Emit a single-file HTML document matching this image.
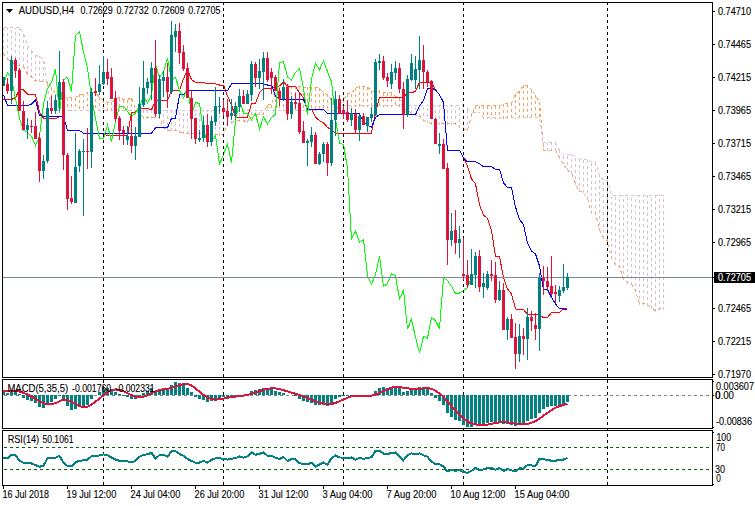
<!DOCTYPE html><html><head><meta charset="utf-8"><title>AUDUSD H4</title><style>html,body{margin:0;padding:0;background:#fff}</style></head><body><svg width="755" height="506" viewBox="0 0 755 506" style="display:block;font-family:'Liberation Sans',sans-serif">
<rect width="755" height="506" fill="#fff"/>
<g shape-rendering="crispEdges">
<g id="cloud">
<line x1="3.5" x2="3.5" y1="55" y2="28" stroke="#D8BFD8" stroke-width="1" stroke-dasharray="3 3"/>
<line x1="7.5" x2="7.5" y1="60" y2="28" stroke="#D8BFD8" stroke-width="1" stroke-dasharray="3 3"/>
<line x1="11.5" x2="11.5" y1="63" y2="28" stroke="#D8BFD8" stroke-width="1" stroke-dasharray="3 3"/>
<line x1="15.5" x2="15.5" y1="65" y2="28" stroke="#D8BFD8" stroke-width="1" stroke-dasharray="3 3"/>
<line x1="19.5" x2="19.5" y1="66" y2="28" stroke="#D8BFD8" stroke-width="1" stroke-dasharray="3 3"/>
<line x1="23.5" x2="23.5" y1="67" y2="33" stroke="#D8BFD8" stroke-width="1" stroke-dasharray="3 3"/>
<line x1="27.5" x2="27.5" y1="75" y2="46" stroke="#D8BFD8" stroke-width="1" stroke-dasharray="3 3"/>
<line x1="31.5" x2="31.5" y1="78" y2="51" stroke="#D8BFD8" stroke-width="1" stroke-dasharray="3 3"/>
<line x1="35.5" x2="35.5" y1="82" y2="56" stroke="#D8BFD8" stroke-width="1" stroke-dasharray="3 3"/>
<line x1="39.5" x2="39.5" y1="82" y2="56" stroke="#D8BFD8" stroke-width="1" stroke-dasharray="3 3"/>
<line x1="43.5" x2="43.5" y1="82" y2="59" stroke="#D8BFD8" stroke-width="1" stroke-dasharray="3 3"/>
<line x1="47.5" x2="47.5" y1="82" y2="85" stroke="#F4A460" stroke-width="1" stroke-dasharray="3 3"/>
<line x1="51.5" x2="51.5" y1="88" y2="111" stroke="#F4A460" stroke-width="1" stroke-dasharray="3 3"/>
<line x1="55.5" x2="55.5" y1="94" y2="111" stroke="#F4A460" stroke-width="1" stroke-dasharray="3 3"/>
<line x1="59.5" x2="59.5" y1="97" y2="111" stroke="#F4A460" stroke-width="1" stroke-dasharray="3 3"/>
<line x1="63.5" x2="63.5" y1="98" y2="111" stroke="#F4A460" stroke-width="1" stroke-dasharray="3 3"/>
<line x1="67.5" x2="67.5" y1="98" y2="111" stroke="#F4A460" stroke-width="1" stroke-dasharray="3 3"/>
<line x1="71.5" x2="71.5" y1="98" y2="111" stroke="#F4A460" stroke-width="1" stroke-dasharray="3 3"/>
<line x1="75.5" x2="75.5" y1="98" y2="111" stroke="#F4A460" stroke-width="1" stroke-dasharray="3 3"/>
<line x1="79.5" x2="79.5" y1="94" y2="111" stroke="#F4A460" stroke-width="1" stroke-dasharray="3 3"/>
<line x1="83.5" x2="83.5" y1="94" y2="111" stroke="#F4A460" stroke-width="1" stroke-dasharray="3 3"/>
<line x1="87.5" x2="87.5" y1="92" y2="111" stroke="#F4A460" stroke-width="1" stroke-dasharray="3 3"/>
<line x1="91.5" x2="91.5" y1="92" y2="111" stroke="#F4A460" stroke-width="1" stroke-dasharray="3 3"/>
<line x1="95.5" x2="95.5" y1="93" y2="111" stroke="#F4A460" stroke-width="1" stroke-dasharray="3 3"/>
<line x1="99.5" x2="99.5" y1="97" y2="111" stroke="#F4A460" stroke-width="1" stroke-dasharray="3 3"/>
<line x1="103.5" x2="103.5" y1="100" y2="111" stroke="#F4A460" stroke-width="1" stroke-dasharray="3 3"/>
<line x1="107.5" x2="107.5" y1="102" y2="111" stroke="#F4A460" stroke-width="1" stroke-dasharray="3 3"/>
<line x1="111.5" x2="111.5" y1="102" y2="111" stroke="#F4A460" stroke-width="1" stroke-dasharray="3 3"/>
<line x1="115.5" x2="115.5" y1="99" y2="111" stroke="#F4A460" stroke-width="1" stroke-dasharray="3 3"/>
<line x1="119.5" x2="119.5" y1="98" y2="111" stroke="#F4A460" stroke-width="1" stroke-dasharray="3 3"/>
<line x1="123.5" x2="123.5" y1="100" y2="111" stroke="#F4A460" stroke-width="1" stroke-dasharray="3 3"/>
<line x1="127.5" x2="127.5" y1="100" y2="111" stroke="#F4A460" stroke-width="1" stroke-dasharray="3 3"/>
<line x1="131.5" x2="131.5" y1="98" y2="111" stroke="#F4A460" stroke-width="1" stroke-dasharray="3 3"/>
<line x1="139.5" x2="139.5" y1="115" y2="110" stroke="#D8BFD8" stroke-width="1" stroke-dasharray="3 3"/>
<line x1="143.5" x2="143.5" y1="119" y2="110" stroke="#D8BFD8" stroke-width="1" stroke-dasharray="3 3"/>
<line x1="147.5" x2="147.5" y1="119" y2="110" stroke="#D8BFD8" stroke-width="1" stroke-dasharray="3 3"/>
<line x1="151.5" x2="151.5" y1="119" y2="110" stroke="#D8BFD8" stroke-width="1" stroke-dasharray="3 3"/>
<line x1="155.5" x2="155.5" y1="118" y2="110" stroke="#D8BFD8" stroke-width="1" stroke-dasharray="3 3"/>
<line x1="159.5" x2="159.5" y1="119" y2="110" stroke="#D8BFD8" stroke-width="1" stroke-dasharray="3 3"/>
<line x1="163.5" x2="163.5" y1="129" y2="110" stroke="#D8BFD8" stroke-width="1" stroke-dasharray="3 3"/>
<line x1="167.5" x2="167.5" y1="131" y2="110" stroke="#D8BFD8" stroke-width="1" stroke-dasharray="3 3"/>
<line x1="171.5" x2="171.5" y1="131" y2="110" stroke="#D8BFD8" stroke-width="1" stroke-dasharray="3 3"/>
<line x1="175.5" x2="175.5" y1="131" y2="110" stroke="#D8BFD8" stroke-width="1" stroke-dasharray="3 3"/>
<line x1="179.5" x2="179.5" y1="133" y2="110" stroke="#D8BFD8" stroke-width="1" stroke-dasharray="3 3"/>
<line x1="183.5" x2="183.5" y1="134" y2="110" stroke="#D8BFD8" stroke-width="1" stroke-dasharray="3 3"/>
<line x1="187.5" x2="187.5" y1="134" y2="110" stroke="#D8BFD8" stroke-width="1" stroke-dasharray="3 3"/>
<line x1="191.5" x2="191.5" y1="134" y2="110" stroke="#D8BFD8" stroke-width="1" stroke-dasharray="3 3"/>
<line x1="195.5" x2="195.5" y1="134" y2="110" stroke="#D8BFD8" stroke-width="1" stroke-dasharray="3 3"/>
<line x1="199.5" x2="199.5" y1="134" y2="110" stroke="#D8BFD8" stroke-width="1" stroke-dasharray="3 3"/>
<line x1="203.5" x2="203.5" y1="136" y2="110" stroke="#D8BFD8" stroke-width="1" stroke-dasharray="3 3"/>
<line x1="207.5" x2="207.5" y1="136" y2="110" stroke="#D8BFD8" stroke-width="1" stroke-dasharray="3 3"/>
<line x1="211.5" x2="211.5" y1="136" y2="110" stroke="#D8BFD8" stroke-width="1" stroke-dasharray="3 3"/>
<line x1="215.5" x2="215.5" y1="136" y2="110" stroke="#D8BFD8" stroke-width="1" stroke-dasharray="3 3"/>
<line x1="219.5" x2="219.5" y1="136" y2="110" stroke="#D8BFD8" stroke-width="1" stroke-dasharray="3 3"/>
<line x1="223.5" x2="223.5" y1="136" y2="110" stroke="#D8BFD8" stroke-width="1" stroke-dasharray="3 3"/>
<line x1="227.5" x2="227.5" y1="124" y2="110" stroke="#D8BFD8" stroke-width="1" stroke-dasharray="3 3"/>
<line x1="231.5" x2="231.5" y1="124" y2="110" stroke="#D8BFD8" stroke-width="1" stroke-dasharray="3 3"/>
<line x1="235.5" x2="235.5" y1="122" y2="110" stroke="#D8BFD8" stroke-width="1" stroke-dasharray="3 3"/>
<line x1="239.5" x2="239.5" y1="122" y2="110" stroke="#D8BFD8" stroke-width="1" stroke-dasharray="3 3"/>
<line x1="243.5" x2="243.5" y1="122" y2="110" stroke="#D8BFD8" stroke-width="1" stroke-dasharray="3 3"/>
<line x1="247.5" x2="247.5" y1="123" y2="110" stroke="#D8BFD8" stroke-width="1" stroke-dasharray="3 3"/>
<line x1="251.5" x2="251.5" y1="115" y2="110" stroke="#D8BFD8" stroke-width="1" stroke-dasharray="3 3"/>
<line x1="255.5" x2="255.5" y1="115" y2="110" stroke="#D8BFD8" stroke-width="1" stroke-dasharray="3 3"/>
<line x1="259.5" x2="259.5" y1="115" y2="110" stroke="#D8BFD8" stroke-width="1" stroke-dasharray="3 3"/>
<line x1="263.5" x2="263.5" y1="115" y2="110" stroke="#D8BFD8" stroke-width="1" stroke-dasharray="3 3"/>
<line x1="267.5" x2="267.5" y1="105" y2="111" stroke="#F4A460" stroke-width="1" stroke-dasharray="3 3"/>
<line x1="271.5" x2="271.5" y1="105" y2="111" stroke="#F4A460" stroke-width="1" stroke-dasharray="3 3"/>
<line x1="275.5" x2="275.5" y1="93" y2="111" stroke="#F4A460" stroke-width="1" stroke-dasharray="3 3"/>
<line x1="279.5" x2="279.5" y1="87" y2="111" stroke="#F4A460" stroke-width="1" stroke-dasharray="3 3"/>
<line x1="283.5" x2="283.5" y1="80" y2="111" stroke="#F4A460" stroke-width="1" stroke-dasharray="3 3"/>
<line x1="287.5" x2="287.5" y1="85" y2="111" stroke="#F4A460" stroke-width="1" stroke-dasharray="3 3"/>
<line x1="291.5" x2="291.5" y1="86" y2="111" stroke="#F4A460" stroke-width="1" stroke-dasharray="3 3"/>
<line x1="295.5" x2="295.5" y1="86" y2="111" stroke="#F4A460" stroke-width="1" stroke-dasharray="3 3"/>
<line x1="299.5" x2="299.5" y1="86" y2="111" stroke="#F4A460" stroke-width="1" stroke-dasharray="3 3"/>
<line x1="303.5" x2="303.5" y1="87" y2="111" stroke="#F4A460" stroke-width="1" stroke-dasharray="3 3"/>
<line x1="307.5" x2="307.5" y1="87" y2="111" stroke="#F4A460" stroke-width="1" stroke-dasharray="3 3"/>
<line x1="311.5" x2="311.5" y1="87" y2="111" stroke="#F4A460" stroke-width="1" stroke-dasharray="3 3"/>
<line x1="315.5" x2="315.5" y1="88" y2="111" stroke="#F4A460" stroke-width="1" stroke-dasharray="3 3"/>
<line x1="319.5" x2="319.5" y1="88" y2="111" stroke="#F4A460" stroke-width="1" stroke-dasharray="3 3"/>
<line x1="323.5" x2="323.5" y1="93" y2="111" stroke="#F4A460" stroke-width="1" stroke-dasharray="3 3"/>
<line x1="327.5" x2="327.5" y1="94" y2="111" stroke="#F4A460" stroke-width="1" stroke-dasharray="3 3"/>
<line x1="331.5" x2="331.5" y1="100" y2="111" stroke="#F4A460" stroke-width="1" stroke-dasharray="3 3"/>
<line x1="335.5" x2="335.5" y1="100" y2="111" stroke="#F4A460" stroke-width="1" stroke-dasharray="3 3"/>
<line x1="339.5" x2="339.5" y1="100" y2="107" stroke="#F4A460" stroke-width="1" stroke-dasharray="3 3"/>
<line x1="343.5" x2="343.5" y1="100" y2="107" stroke="#F4A460" stroke-width="1" stroke-dasharray="3 3"/>
<line x1="347.5" x2="347.5" y1="94" y2="107" stroke="#F4A460" stroke-width="1" stroke-dasharray="3 3"/>
<line x1="351.5" x2="351.5" y1="94" y2="107" stroke="#F4A460" stroke-width="1" stroke-dasharray="3 3"/>
<line x1="355.5" x2="355.5" y1="88" y2="107" stroke="#F4A460" stroke-width="1" stroke-dasharray="3 3"/>
<line x1="359.5" x2="359.5" y1="86" y2="107" stroke="#F4A460" stroke-width="1" stroke-dasharray="3 3"/>
<line x1="363.5" x2="363.5" y1="87" y2="107" stroke="#F4A460" stroke-width="1" stroke-dasharray="3 3"/>
<line x1="367.5" x2="367.5" y1="87" y2="107" stroke="#F4A460" stroke-width="1" stroke-dasharray="3 3"/>
<line x1="371.5" x2="371.5" y1="91" y2="107" stroke="#F4A460" stroke-width="1" stroke-dasharray="3 3"/>
<line x1="375.5" x2="375.5" y1="93" y2="107" stroke="#F4A460" stroke-width="1" stroke-dasharray="3 3"/>
<line x1="379.5" x2="379.5" y1="91" y2="107" stroke="#F4A460" stroke-width="1" stroke-dasharray="3 3"/>
<line x1="383.5" x2="383.5" y1="93" y2="107" stroke="#F4A460" stroke-width="1" stroke-dasharray="3 3"/>
<line x1="387.5" x2="387.5" y1="93" y2="107" stroke="#F4A460" stroke-width="1" stroke-dasharray="3 3"/>
<line x1="391.5" x2="391.5" y1="93" y2="107" stroke="#F4A460" stroke-width="1" stroke-dasharray="3 3"/>
<line x1="395.5" x2="395.5" y1="96" y2="107" stroke="#F4A460" stroke-width="1" stroke-dasharray="3 3"/>
<line x1="399.5" x2="399.5" y1="98" y2="107" stroke="#F4A460" stroke-width="1" stroke-dasharray="3 3"/>
<line x1="403.5" x2="403.5" y1="110" y2="106" stroke="#D8BFD8" stroke-width="1" stroke-dasharray="3 3"/>
<line x1="407.5" x2="407.5" y1="110" y2="106" stroke="#D8BFD8" stroke-width="1" stroke-dasharray="3 3"/>
<line x1="411.5" x2="411.5" y1="114" y2="106" stroke="#D8BFD8" stroke-width="1" stroke-dasharray="3 3"/>
<line x1="415.5" x2="415.5" y1="116" y2="106" stroke="#D8BFD8" stroke-width="1" stroke-dasharray="3 3"/>
<line x1="419.5" x2="419.5" y1="117" y2="106" stroke="#D8BFD8" stroke-width="1" stroke-dasharray="3 3"/>
<line x1="423.5" x2="423.5" y1="122" y2="106" stroke="#D8BFD8" stroke-width="1" stroke-dasharray="3 3"/>
<line x1="427.5" x2="427.5" y1="123" y2="106" stroke="#D8BFD8" stroke-width="1" stroke-dasharray="3 3"/>
<line x1="431.5" x2="431.5" y1="125" y2="106" stroke="#D8BFD8" stroke-width="1" stroke-dasharray="3 3"/>
<line x1="435.5" x2="435.5" y1="125" y2="106" stroke="#D8BFD8" stroke-width="1" stroke-dasharray="3 3"/>
<line x1="439.5" x2="439.5" y1="125" y2="106" stroke="#D8BFD8" stroke-width="1" stroke-dasharray="3 3"/>
<line x1="443.5" x2="443.5" y1="125" y2="106" stroke="#D8BFD8" stroke-width="1" stroke-dasharray="3 3"/>
<line x1="447.5" x2="447.5" y1="125" y2="106" stroke="#D8BFD8" stroke-width="1" stroke-dasharray="3 3"/>
<line x1="451.5" x2="451.5" y1="125" y2="106" stroke="#D8BFD8" stroke-width="1" stroke-dasharray="3 3"/>
<line x1="455.5" x2="455.5" y1="125" y2="106" stroke="#D8BFD8" stroke-width="1" stroke-dasharray="3 3"/>
<line x1="459.5" x2="459.5" y1="128" y2="106" stroke="#D8BFD8" stroke-width="1" stroke-dasharray="3 3"/>
<line x1="463.5" x2="463.5" y1="130" y2="106" stroke="#D8BFD8" stroke-width="1" stroke-dasharray="3 3"/>
<line x1="467.5" x2="467.5" y1="131" y2="109" stroke="#D8BFD8" stroke-width="1" stroke-dasharray="3 3"/>
<line x1="471.5" x2="471.5" y1="116" y2="112" stroke="#D8BFD8" stroke-width="1" stroke-dasharray="3 3"/>
<line x1="475.5" x2="475.5" y1="106" y2="113" stroke="#F4A460" stroke-width="1" stroke-dasharray="3 3"/>
<line x1="479.5" x2="479.5" y1="106" y2="113" stroke="#F4A460" stroke-width="1" stroke-dasharray="3 3"/>
<line x1="483.5" x2="483.5" y1="106" y2="119" stroke="#F4A460" stroke-width="1" stroke-dasharray="3 3"/>
<line x1="487.5" x2="487.5" y1="106" y2="119" stroke="#F4A460" stroke-width="1" stroke-dasharray="3 3"/>
<line x1="491.5" x2="491.5" y1="106" y2="119" stroke="#F4A460" stroke-width="1" stroke-dasharray="3 3"/>
<line x1="495.5" x2="495.5" y1="106" y2="119" stroke="#F4A460" stroke-width="1" stroke-dasharray="3 3"/>
<line x1="499.5" x2="499.5" y1="106" y2="119" stroke="#F4A460" stroke-width="1" stroke-dasharray="3 3"/>
<line x1="503.5" x2="503.5" y1="104" y2="119" stroke="#F4A460" stroke-width="1" stroke-dasharray="3 3"/>
<line x1="507.5" x2="507.5" y1="104" y2="119" stroke="#F4A460" stroke-width="1" stroke-dasharray="3 3"/>
<line x1="511.5" x2="511.5" y1="103" y2="119" stroke="#F4A460" stroke-width="1" stroke-dasharray="3 3"/>
<line x1="515.5" x2="515.5" y1="94" y2="119" stroke="#F4A460" stroke-width="1" stroke-dasharray="3 3"/>
<line x1="519.5" x2="519.5" y1="91" y2="119" stroke="#F4A460" stroke-width="1" stroke-dasharray="3 3"/>
<line x1="523.5" x2="523.5" y1="85" y2="119" stroke="#F4A460" stroke-width="1" stroke-dasharray="3 3"/>
<line x1="527.5" x2="527.5" y1="85" y2="119" stroke="#F4A460" stroke-width="1" stroke-dasharray="3 3"/>
<line x1="531.5" x2="531.5" y1="90" y2="119" stroke="#F4A460" stroke-width="1" stroke-dasharray="3 3"/>
<line x1="535.5" x2="535.5" y1="95" y2="119" stroke="#F4A460" stroke-width="1" stroke-dasharray="3 3"/>
<line x1="539.5" x2="539.5" y1="102" y2="119" stroke="#F4A460" stroke-width="1" stroke-dasharray="3 3"/>
<line x1="543.5" x2="543.5" y1="151" y2="143" stroke="#D8BFD8" stroke-width="1" stroke-dasharray="3 3"/>
<line x1="547.5" x2="547.5" y1="151" y2="143" stroke="#D8BFD8" stroke-width="1" stroke-dasharray="3 3"/>
<line x1="551.5" x2="551.5" y1="151" y2="143" stroke="#D8BFD8" stroke-width="1" stroke-dasharray="3 3"/>
<line x1="555.5" x2="555.5" y1="151" y2="143" stroke="#D8BFD8" stroke-width="1" stroke-dasharray="3 3"/>
<line x1="559.5" x2="559.5" y1="159" y2="150" stroke="#D8BFD8" stroke-width="1" stroke-dasharray="3 3"/>
<line x1="563.5" x2="563.5" y1="165" y2="154" stroke="#D8BFD8" stroke-width="1" stroke-dasharray="3 3"/>
<line x1="567.5" x2="567.5" y1="171" y2="154" stroke="#D8BFD8" stroke-width="1" stroke-dasharray="3 3"/>
<line x1="571.5" x2="571.5" y1="174" y2="154" stroke="#D8BFD8" stroke-width="1" stroke-dasharray="3 3"/>
<line x1="575.5" x2="575.5" y1="185" y2="156" stroke="#D8BFD8" stroke-width="1" stroke-dasharray="3 3"/>
<line x1="579.5" x2="579.5" y1="192" y2="159" stroke="#D8BFD8" stroke-width="1" stroke-dasharray="3 3"/>
<line x1="583.5" x2="583.5" y1="193" y2="159" stroke="#D8BFD8" stroke-width="1" stroke-dasharray="3 3"/>
<line x1="587.5" x2="587.5" y1="199" y2="159" stroke="#D8BFD8" stroke-width="1" stroke-dasharray="3 3"/>
<line x1="591.5" x2="591.5" y1="214" y2="162" stroke="#D8BFD8" stroke-width="1" stroke-dasharray="3 3"/>
<line x1="595.5" x2="595.5" y1="214" y2="162" stroke="#D8BFD8" stroke-width="1" stroke-dasharray="3 3"/>
<line x1="599.5" x2="599.5" y1="231" y2="175" stroke="#D8BFD8" stroke-width="1" stroke-dasharray="3 3"/>
<line x1="603.5" x2="603.5" y1="239" y2="180" stroke="#D8BFD8" stroke-width="1" stroke-dasharray="3 3"/>
<line x1="607.5" x2="607.5" y1="242" y2="180" stroke="#D8BFD8" stroke-width="1" stroke-dasharray="3 3"/>
<line x1="611.5" x2="611.5" y1="259" y2="195" stroke="#D8BFD8" stroke-width="1" stroke-dasharray="3 3"/>
<line x1="615.5" x2="615.5" y1="266" y2="195" stroke="#D8BFD8" stroke-width="1" stroke-dasharray="3 3"/>
<line x1="619.5" x2="619.5" y1="268" y2="195" stroke="#D8BFD8" stroke-width="1" stroke-dasharray="3 3"/>
<line x1="623.5" x2="623.5" y1="280" y2="195" stroke="#D8BFD8" stroke-width="1" stroke-dasharray="3 3"/>
<line x1="627.5" x2="627.5" y1="284" y2="195" stroke="#D8BFD8" stroke-width="1" stroke-dasharray="3 3"/>
<line x1="631.5" x2="631.5" y1="285" y2="195" stroke="#D8BFD8" stroke-width="1" stroke-dasharray="3 3"/>
<line x1="635.5" x2="635.5" y1="292" y2="195" stroke="#D8BFD8" stroke-width="1" stroke-dasharray="3 3"/>
<line x1="639.5" x2="639.5" y1="305" y2="195" stroke="#D8BFD8" stroke-width="1" stroke-dasharray="3 3"/>
<line x1="643.5" x2="643.5" y1="305" y2="195" stroke="#D8BFD8" stroke-width="1" stroke-dasharray="3 3"/>
<line x1="647.5" x2="647.5" y1="306" y2="195" stroke="#D8BFD8" stroke-width="1" stroke-dasharray="3 3"/>
<line x1="651.5" x2="651.5" y1="309" y2="195" stroke="#D8BFD8" stroke-width="1" stroke-dasharray="3 3"/>
<line x1="655.5" x2="655.5" y1="312" y2="195" stroke="#D8BFD8" stroke-width="1" stroke-dasharray="3 3"/>
<line x1="659.5" x2="659.5" y1="310" y2="195" stroke="#D8BFD8" stroke-width="1" stroke-dasharray="3 3"/>
<line x1="663.5" x2="663.5" y1="310" y2="195" stroke="#D8BFD8" stroke-width="1" stroke-dasharray="3 3"/>
</g>
</g>
<clipPath id="mainclip"><rect x="3" y="3" width="709" height="374"/></clipPath>
<g clip-path="url(#mainclip)">
<polyline fill="none" stroke="#F4A460" stroke-width="1" stroke-dasharray="3 3" shape-rendering="crispEdges" points="3.5,54.00 7.5,59.00 11.5,62.00 15.5,64.00 19.5,65.40 23.5,66.50 27.5,74.50 31.5,77.00 35.5,80.80 39.5,81.10 43.5,81.10 47.5,82.50 51.5,88.00 55.5,93.50 59.5,97.00 63.5,97.60 67.5,97.60 71.5,97.60 75.5,97.60 79.5,94.50 83.5,94.50 87.5,92.30 91.5,92.30 95.5,93.00 99.5,97.00 103.5,100.00 107.5,102.20 111.5,102.20 115.5,99.00 119.5,97.50 123.5,99.50 127.5,99.50 131.5,97.50 135.5,109.50 139.5,114.00 143.5,117.50 147.5,117.50 151.5,117.50 155.5,117.00 159.5,117.50 163.5,127.50 167.5,130.00 171.5,130.00 175.5,130.50 179.5,132.00 183.5,133.00 187.5,133.30 191.5,133.30 195.5,133.30 199.5,133.30 203.5,134.60 207.5,134.60 211.5,134.60 215.5,134.60 219.5,134.60 223.5,134.60 227.5,122.85 231.5,122.60 235.5,120.83 239.5,120.83 243.5,120.83 247.5,121.53 251.5,114.03 255.5,114.03 259.5,114.03 263.5,114.03 267.5,104.53 271.5,104.53 275.5,92.78 279.5,86.57 283.5,80.03 287.5,85.30 291.5,86.50 295.5,86.50 299.5,86.50 303.5,87.30 307.5,87.30 311.5,87.30 315.5,87.88 319.5,87.88 323.5,93.35 327.5,94.40 331.5,100.45 335.5,100.45 339.5,100.45 343.5,100.45 347.5,93.82 351.5,93.70 355.5,88.25 359.5,86.38 363.5,86.95 367.5,86.95 371.5,91.15 375.5,92.70 379.5,90.72 383.5,92.90 387.5,92.90 391.5,92.90 395.5,96.22 399.5,98.30 403.5,109.30 407.5,109.30 411.5,113.25 415.5,114.98 419.5,116.05 423.5,120.60 427.5,121.80 431.5,123.50 435.5,123.50 439.5,123.50 443.5,123.50 447.5,123.50 451.5,123.50 455.5,123.50 459.5,127.45 463.5,129.18 467.5,130.25 471.5,114.88 475.5,105.97 479.5,105.97 483.5,105.97 487.5,105.97 491.5,105.97 495.5,105.97 499.5,105.97 503.5,103.75 507.5,103.75 511.5,102.97 515.5,93.92 519.5,91.45 523.5,85.20 527.5,85.20 531.5,89.75 535.5,94.90 539.5,102.30 543.5,150.25 547.5,150.25 551.5,150.25 555.5,150.25 559.5,157.90 563.5,164.07 567.5,170.43 571.5,172.80 575.5,184.30 579.5,190.93 583.5,192.45 587.5,198.45 591.5,212.85 595.5,212.85 599.5,230.30 603.5,238.32 607.5,240.90 611.5,257.92 615.5,264.57 619.5,266.95 623.5,278.95 627.5,282.73 631.5,284.25 635.5,290.73 639.5,303.50 643.5,303.50 647.5,304.98 651.5,308.10 655.5,310.67 659.5,308.90 663.5,308.70"/>
<polyline fill="none" stroke="#D8BFD8" stroke-width="1" stroke-dasharray="3 3" shape-rendering="crispEdges" points="3.5,27.60 7.5,27.60 11.5,27.60 15.5,27.60 19.5,27.60 23.5,33.00 27.5,46.00 31.5,51.00 35.5,55.50 39.5,56.50 43.5,59.00 47.5,84.00 51.5,110.30 55.5,110.30 59.5,110.30 63.5,110.30 67.5,110.30 71.5,110.30 75.5,110.30 79.5,110.30 83.5,110.30 87.5,110.30 91.5,110.30 95.5,110.30 99.5,110.30 103.5,110.30 107.5,110.30 111.5,110.30 115.5,110.30 119.5,110.30 123.5,110.30 127.5,110.30 131.5,110.30 135.5,110.30 139.5,110.30 143.5,110.30 147.5,110.30 151.5,110.30 155.5,110.30 159.5,110.30 163.5,110.30 167.5,110.30 171.5,110.30 175.5,110.30 179.5,110.30 183.5,110.30 187.5,110.30 191.5,110.30 195.5,110.30 199.5,110.30 203.5,110.30 207.5,110.30 211.5,110.30 215.5,110.30 219.5,110.30 223.5,110.30 227.5,110.30 231.5,110.30 235.5,110.30 239.5,110.30 243.5,110.30 247.5,110.30 251.5,110.30 255.5,110.30 259.5,110.30 263.5,110.30 267.5,110.30 271.5,110.30 275.5,110.30 279.5,110.30 283.5,110.30 287.5,110.30 291.5,110.30 295.5,110.30 299.5,110.30 303.5,110.30 307.5,110.30 311.5,110.30 315.5,110.30 319.5,110.30 323.5,110.30 327.5,110.30 331.5,110.30 335.5,110.30 339.5,105.60 343.5,105.60 347.5,105.60 351.5,105.60 355.5,105.60 359.5,105.60 363.5,105.60 367.5,105.60 371.5,105.60 375.5,105.60 379.5,105.60 383.5,105.60 387.5,105.60 391.5,105.60 395.5,105.60 399.5,105.60 403.5,105.60 407.5,105.60 411.5,105.60 415.5,105.60 419.5,105.60 423.5,105.60 427.5,105.60 431.5,105.60 435.5,105.60 439.5,105.60 443.5,105.60 447.5,105.60 451.5,105.60 455.5,105.60 459.5,105.60 463.5,105.60 467.5,109.00 471.5,112.00 475.5,112.00 479.5,112.00 483.5,117.70 487.5,117.70 491.5,117.70 495.5,117.70 499.5,117.70 503.5,117.70 507.5,117.70 511.5,117.70 515.5,117.70 519.5,117.70 523.5,117.70 527.5,117.70 531.5,117.70 535.5,117.70 539.5,117.70 543.5,142.85 547.5,142.85 551.5,142.85 555.5,142.85 559.5,150.50 563.5,154.40 567.5,154.40 571.5,154.40 575.5,156.40 579.5,159.25 583.5,159.25 587.5,159.25 591.5,161.90 595.5,161.90 599.5,175.35 603.5,180.25 607.5,180.25 611.5,195.00 615.5,195.00 619.5,195.00 623.5,195.00 627.5,195.00 631.5,195.00 635.5,195.00 639.5,195.00 643.5,195.00 647.5,195.00 651.5,195.00 655.5,195.00 659.5,195.00 663.5,195.00"/>
<polyline fill="none" stroke="#FF0000" stroke-width="1" shape-rendering="crispEdges" points="2.5,99.50 3.5,99.50 7.5,99.50 11.5,99.50 15.5,97.50 19.5,89.50 23.5,90.00 27.5,94.20 31.5,94.20 35.5,94.50 39.5,112.00 43.5,118.40 47.5,118.75 51.5,118.75 55.5,118.75 59.5,116.50 63.5,116.50 67.5,130.40 71.5,130.40 75.5,130.40 79.5,130.40 83.5,133.30 87.5,133.30 91.5,133.30 95.5,133.30 99.5,133.30 103.5,133.30 107.5,135.90 111.5,135.90 115.5,135.90 119.5,135.90 123.5,135.90 127.5,135.90 131.5,112.40 135.5,111.90 139.5,108.35 143.5,108.35 147.5,108.35 151.5,109.75 155.5,100.25 159.5,100.25 163.5,100.25 167.5,100.25 171.5,90.75 175.5,90.75 179.5,90.75 183.5,78.85 187.5,69.30 191.5,79.85 195.5,82.25 199.5,82.25 203.5,82.25 207.5,83.85 211.5,83.85 215.5,83.85 219.5,85.00 223.5,85.00 227.5,95.95 231.5,104.95 235.5,117.05 239.5,117.05 243.5,117.05 247.5,117.05 251.5,103.80 255.5,103.55 259.5,92.65 263.5,88.90 267.5,88.90 271.5,88.90 275.5,86.35 279.5,85.95 283.5,82.00 287.5,86.35 291.5,86.35 295.5,86.35 299.5,93.00 303.5,97.40 307.5,109.30 311.5,109.30 315.5,117.20 319.5,120.65 323.5,122.80 327.5,127.35 331.5,129.75 335.5,133.15 339.5,133.15 343.5,133.15 347.5,133.15 351.5,133.15 355.5,133.15 359.5,133.15 363.5,133.15 367.5,133.15 371.5,133.15 375.5,112.40 379.5,97.25 383.5,97.25 387.5,97.25 391.5,97.25 395.5,97.25 399.5,97.25 403.5,97.25 407.5,92.80 411.5,92.80 415.5,91.25 419.5,82.20 423.5,82.20 427.5,82.20 431.5,82.20 435.5,89.75 439.5,94.90 443.5,102.30 447.5,150.25 451.5,150.25 455.5,150.25 459.5,150.25 463.5,157.90 467.5,166.35 471.5,179.05 475.5,183.80 479.5,204.80 483.5,215.20 487.5,218.25 491.5,230.25 495.5,256.40 499.5,256.40 503.5,277.85 507.5,289.00 511.5,294.15 515.5,308.90 519.5,309.50 523.5,309.50 527.5,314.50 531.5,314.50 535.5,314.50 539.5,315.45 543.5,317.50 547.5,317.50 551.5,312.45 555.5,312.45 559.5,312.45 563.5,308.90 567.5,307.90"/>
<polyline fill="none" stroke="#0000FF" stroke-width="1" shape-rendering="crispEdges" points="2.5,95.00 3.5,95.00 7.5,105.40 11.5,105.40 15.5,105.40 19.5,105.40 23.5,105.40 27.5,105.40 31.5,104.00 35.5,99.80 39.5,115.50 43.5,116.50 47.5,116.50 51.5,116.50 55.5,116.50 59.5,116.50 63.5,116.50 67.5,130.40 71.5,130.40 75.5,130.40 79.5,130.40 83.5,133.30 87.5,133.30 91.5,133.30 95.5,133.30 99.5,133.30 103.5,133.30 107.5,133.30 111.5,133.30 115.5,133.30 119.5,133.30 123.5,133.30 127.5,133.30 131.5,133.30 135.5,133.30 139.5,133.30 143.5,133.30 147.5,133.30 151.5,133.30 155.5,127.80 159.5,127.80 163.5,127.80 167.5,127.80 171.5,118.30 175.5,118.30 179.5,94.80 183.5,94.30 187.5,90.75 191.5,90.75 195.5,90.75 199.5,90.75 203.5,90.75 207.5,90.75 211.5,90.75 215.5,90.75 219.5,90.75 223.5,90.75 227.5,90.75 231.5,83.85 235.5,83.85 239.5,83.85 243.5,83.85 247.5,83.85 251.5,83.85 255.5,83.85 259.5,83.85 263.5,83.85 267.5,85.00 271.5,85.00 275.5,95.95 279.5,99.45 283.5,99.45 287.5,99.45 291.5,99.45 295.5,99.45 299.5,99.45 303.5,99.20 307.5,109.30 311.5,109.30 315.5,109.30 319.5,109.30 323.5,109.30 327.5,113.85 331.5,113.85 335.5,113.85 339.5,113.85 343.5,113.85 347.5,113.85 351.5,113.85 355.5,113.85 359.5,113.85 363.5,121.75 367.5,125.20 371.5,127.35 375.5,117.35 379.5,114.70 383.5,114.70 387.5,114.70 391.5,114.70 395.5,114.70 399.5,114.70 403.5,114.70 407.5,114.70 411.5,114.70 415.5,114.70 419.5,105.65 423.5,100.70 427.5,88.20 431.5,88.20 435.5,89.75 439.5,94.90 443.5,102.30 447.5,150.25 451.5,150.25 455.5,150.25 459.5,150.25 463.5,157.90 467.5,161.80 471.5,161.80 475.5,161.80 479.5,163.80 483.5,166.65 487.5,166.65 491.5,166.65 495.5,169.30 499.5,169.30 503.5,182.75 507.5,187.65 511.5,187.65 515.5,206.95 519.5,219.65 523.5,224.40 527.5,243.40 531.5,250.95 535.5,254.00 539.5,266.00 543.5,289.50 547.5,289.50 551.5,297.50 555.5,303.75 559.5,308.90 563.5,308.90 567.5,309.50"/>
<polyline fill="none" stroke="#00FF00" stroke-width="1" shape-rendering="crispEdges" points="2.5,84.50 3.5,84.50 7.5,72.60 11.5,78.30 15.5,98.80 19.5,118.70 23.5,130.50 27.5,132.20 31.5,136.40 35.5,145.40 39.5,136.40 43.5,104.30 47.5,88.50 51.5,82.30 55.5,68.80 59.5,113.10 63.5,79.90 67.5,77.20 71.5,91.70 75.5,35.40 79.5,31.40 83.5,52.30 87.5,68.20 91.5,97.20 95.5,118.70 99.5,138.50 103.5,138.50 107.5,125.20 111.5,141.70 115.5,121.30 119.5,106.20 123.5,106.20 127.5,111.50 131.5,116.40 135.5,113.10 139.5,106.50 143.5,96.40 147.5,103.00 151.5,94.50 155.5,64.30 159.5,77.50 163.5,71.70 167.5,58.50 171.5,79.20 175.5,77.50 179.5,90.50 183.5,98.20 187.5,87.20 191.5,113.70 195.5,102.40 199.5,103.60 203.5,131.00 207.5,142.10 211.5,141.50 215.5,135.50 219.5,164.00 223.5,154.50 227.5,144.20 231.5,162.80 235.5,120.50 239.5,99.50 243.5,113.10 247.5,113.30 251.5,119.70 255.5,113.50 259.5,129.20 263.5,116.70 267.5,124.20 271.5,117.50 275.5,114.30 279.5,62.40 283.5,61.70 287.5,77.00 291.5,80.10 295.5,72.40 299.5,68.40 303.5,88.90 307.5,114.90 311.5,79.50 315.5,63.30 319.5,69.70 323.5,60.80 327.5,71.90 331.5,81.70 335.5,118.90 339.5,143.20 343.5,144.50 347.5,168.30 351.5,239.10 355.5,231.10 359.5,242.30 363.5,239.50 367.5,275.70 371.5,284.10 375.5,274.50 379.5,256.50 383.5,286.50 387.5,283.50 391.5,274.00 395.5,275.70 399.5,299.10 403.5,290.40 407.5,329.20 411.5,319.30 415.5,337.10 419.5,353.30 423.5,336.50 427.5,338.20 431.5,317.50 435.5,320.70 439.5,328.40 443.5,278.10 447.5,280.50 451.5,286.50 455.5,293.30 459.5,293.10 463.5,290.50 467.5,287.50 471.5,277.50"/>
</g>
<g shape-rendering="crispEdges">
<line x1="103.5" x2="103.5" y1="3" y2="485" stroke="#000" stroke-width="1" stroke-dasharray="3 3" stroke-dashoffset="1"/>
<line x1="223.5" x2="223.5" y1="3" y2="485" stroke="#000" stroke-width="1" stroke-dasharray="3 3" stroke-dashoffset="1"/>
<line x1="343.5" x2="343.5" y1="3" y2="485" stroke="#000" stroke-width="1" stroke-dasharray="3 3" stroke-dashoffset="1"/>
<line x1="463.5" x2="463.5" y1="3" y2="485" stroke="#000" stroke-width="1" stroke-dasharray="3 3" stroke-dashoffset="1"/>
<line x1="607.5" x2="607.5" y1="3" y2="485" stroke="#000" stroke-width="1" stroke-dasharray="3 3" stroke-dashoffset="1"/>
</g>
<g shape-rendering="crispEdges">
<rect x="3" y="277" width="709" height="1" fill="#778899"/>
</g>
<g shape-rendering="crispEdges">
<rect x="3" y="77" width="1" height="9" fill="#008080"/>
<rect x="2" y="77" width="3" height="9" fill="#008080"/>
<rect x="7" y="78" width="1" height="16" fill="#DC143C"/>
<rect x="6" y="84" width="3" height="7" fill="#DC143C"/>
<rect x="11" y="56" width="1" height="48" fill="#008080"/>
<rect x="10" y="60" width="3" height="31" fill="#008080"/>
<rect x="15" y="58" width="1" height="20" fill="#DC143C"/>
<rect x="14" y="60" width="3" height="11" fill="#DC143C"/>
<rect x="19" y="68" width="1" height="43" fill="#DC143C"/>
<rect x="18" y="70" width="3" height="41" fill="#DC143C"/>
<rect x="23" y="101" width="1" height="29" fill="#DC143C"/>
<rect x="22" y="111" width="3" height="19" fill="#DC143C"/>
<rect x="27" y="118" width="1" height="21" fill="#008080"/>
<rect x="26" y="125" width="3" height="5" fill="#008080"/>
<rect x="31" y="120" width="1" height="13" fill="#DC143C"/>
<rect x="30" y="126" width="3" height="1" fill="#DC143C"/>
<rect x="35" y="112" width="1" height="27" fill="#DC143C"/>
<rect x="34" y="126" width="3" height="13" fill="#DC143C"/>
<rect x="39" y="133" width="1" height="49" fill="#DC143C"/>
<rect x="38" y="138" width="3" height="33" fill="#DC143C"/>
<rect x="43" y="155" width="1" height="24" fill="#008080"/>
<rect x="42" y="161" width="3" height="10" fill="#008080"/>
<rect x="47" y="101" width="1" height="62" fill="#008080"/>
<rect x="46" y="108" width="3" height="53" fill="#008080"/>
<rect x="51" y="96" width="1" height="18" fill="#DC143C"/>
<rect x="50" y="108" width="3" height="3" fill="#DC143C"/>
<rect x="55" y="95" width="1" height="19" fill="#008080"/>
<rect x="54" y="100" width="3" height="11" fill="#008080"/>
<rect x="59" y="51" width="1" height="60" fill="#008080"/>
<rect x="58" y="82" width="3" height="18" fill="#008080"/>
<rect x="63" y="79" width="1" height="91" fill="#DC143C"/>
<rect x="62" y="82" width="3" height="73" fill="#DC143C"/>
<rect x="67" y="153" width="1" height="57" fill="#DC143C"/>
<rect x="66" y="155" width="3" height="44" fill="#DC143C"/>
<rect x="71" y="176" width="1" height="28" fill="#DC143C"/>
<rect x="70" y="198" width="3" height="4" fill="#DC143C"/>
<rect x="75" y="133" width="1" height="70" fill="#008080"/>
<rect x="74" y="167" width="3" height="36" fill="#008080"/>
<rect x="79" y="149" width="1" height="23" fill="#008080"/>
<rect x="78" y="151" width="3" height="15" fill="#008080"/>
<rect x="83" y="139" width="1" height="77" fill="#008080"/>
<rect x="82" y="151" width="3" height="1" fill="#008080"/>
<rect x="87" y="128" width="1" height="41" fill="#DC143C"/>
<rect x="86" y="151" width="3" height="1" fill="#DC143C"/>
<rect x="91" y="88" width="1" height="80" fill="#008080"/>
<rect x="90" y="92" width="3" height="60" fill="#008080"/>
<rect x="95" y="78" width="1" height="18" fill="#DC143C"/>
<rect x="94" y="91" width="3" height="2" fill="#DC143C"/>
<rect x="99" y="65" width="1" height="30" fill="#008080"/>
<rect x="98" y="84" width="3" height="8" fill="#008080"/>
<rect x="103" y="56" width="1" height="29" fill="#008080"/>
<rect x="102" y="72" width="3" height="12" fill="#008080"/>
<rect x="107" y="59" width="1" height="26" fill="#DC143C"/>
<rect x="106" y="72" width="3" height="7" fill="#DC143C"/>
<rect x="111" y="68" width="1" height="31" fill="#DC143C"/>
<rect x="110" y="77" width="3" height="22" fill="#DC143C"/>
<rect x="115" y="91" width="1" height="31" fill="#DC143C"/>
<rect x="114" y="98" width="3" height="21" fill="#DC143C"/>
<rect x="119" y="116" width="1" height="24" fill="#DC143C"/>
<rect x="118" y="118" width="3" height="13" fill="#DC143C"/>
<rect x="123" y="126" width="1" height="19" fill="#DC143C"/>
<rect x="122" y="130" width="3" height="3" fill="#DC143C"/>
<rect x="127" y="126" width="1" height="19" fill="#008080"/>
<rect x="126" y="136" width="3" height="4" fill="#008080"/>
<rect x="131" y="115" width="1" height="38" fill="#DC143C"/>
<rect x="130" y="136" width="3" height="10" fill="#DC143C"/>
<rect x="135" y="127" width="1" height="33" fill="#008080"/>
<rect x="134" y="136" width="3" height="10" fill="#008080"/>
<rect x="139" y="87" width="1" height="50" fill="#008080"/>
<rect x="138" y="104" width="3" height="33" fill="#008080"/>
<rect x="143" y="61" width="1" height="46" fill="#008080"/>
<rect x="142" y="88" width="3" height="17" fill="#008080"/>
<rect x="147" y="78" width="1" height="16" fill="#008080"/>
<rect x="146" y="82" width="3" height="6" fill="#008080"/>
<rect x="151" y="62" width="1" height="38" fill="#008080"/>
<rect x="150" y="68" width="3" height="15" fill="#008080"/>
<rect x="155" y="40" width="1" height="77" fill="#DC143C"/>
<rect x="154" y="68" width="3" height="46" fill="#DC143C"/>
<rect x="159" y="75" width="1" height="43" fill="#008080"/>
<rect x="158" y="79" width="3" height="35" fill="#008080"/>
<rect x="163" y="71" width="1" height="26" fill="#008080"/>
<rect x="162" y="77" width="3" height="4" fill="#008080"/>
<rect x="167" y="63" width="1" height="45" fill="#DC143C"/>
<rect x="166" y="77" width="3" height="15" fill="#DC143C"/>
<rect x="171" y="21" width="1" height="73" fill="#008080"/>
<rect x="170" y="35" width="3" height="57" fill="#008080"/>
<rect x="175" y="24" width="1" height="28" fill="#008080"/>
<rect x="174" y="31" width="3" height="6" fill="#008080"/>
<rect x="179" y="23" width="1" height="41" fill="#DC143C"/>
<rect x="178" y="31" width="3" height="22" fill="#DC143C"/>
<rect x="183" y="45" width="1" height="26" fill="#DC143C"/>
<rect x="182" y="52" width="3" height="17" fill="#DC143C"/>
<rect x="187" y="63" width="1" height="35" fill="#DC143C"/>
<rect x="186" y="68" width="3" height="30" fill="#DC143C"/>
<rect x="191" y="90" width="1" height="49" fill="#DC143C"/>
<rect x="190" y="98" width="3" height="21" fill="#DC143C"/>
<rect x="195" y="118" width="1" height="26" fill="#DC143C"/>
<rect x="194" y="118" width="3" height="21" fill="#DC143C"/>
<rect x="199" y="130" width="1" height="12" fill="#008080"/>
<rect x="198" y="138" width="3" height="2" fill="#008080"/>
<rect x="203" y="116" width="1" height="26" fill="#008080"/>
<rect x="202" y="125" width="3" height="13" fill="#008080"/>
<rect x="207" y="114" width="1" height="33" fill="#DC143C"/>
<rect x="206" y="125" width="3" height="17" fill="#DC143C"/>
<rect x="211" y="116" width="1" height="30" fill="#008080"/>
<rect x="210" y="121" width="3" height="21" fill="#008080"/>
<rect x="215" y="87" width="1" height="39" fill="#008080"/>
<rect x="214" y="106" width="3" height="16" fill="#008080"/>
<rect x="219" y="97" width="1" height="17" fill="#008080"/>
<rect x="218" y="106" width="3" height="1" fill="#008080"/>
<rect x="223" y="100" width="1" height="16" fill="#DC143C"/>
<rect x="222" y="108" width="3" height="4" fill="#DC143C"/>
<rect x="227" y="99" width="1" height="27" fill="#DC143C"/>
<rect x="226" y="111" width="3" height="6" fill="#DC143C"/>
<rect x="231" y="99" width="1" height="21" fill="#008080"/>
<rect x="230" y="113" width="3" height="3" fill="#008080"/>
<rect x="235" y="102" width="1" height="18" fill="#008080"/>
<rect x="234" y="106" width="3" height="8" fill="#008080"/>
<rect x="239" y="89" width="1" height="23" fill="#008080"/>
<rect x="238" y="96" width="3" height="11" fill="#008080"/>
<rect x="243" y="90" width="1" height="14" fill="#DC143C"/>
<rect x="242" y="96" width="3" height="8" fill="#DC143C"/>
<rect x="247" y="90" width="1" height="14" fill="#008080"/>
<rect x="246" y="94" width="3" height="10" fill="#008080"/>
<rect x="251" y="61" width="1" height="40" fill="#008080"/>
<rect x="250" y="64" width="3" height="31" fill="#008080"/>
<rect x="255" y="62" width="1" height="25" fill="#DC143C"/>
<rect x="254" y="64" width="3" height="14" fill="#DC143C"/>
<rect x="259" y="59" width="1" height="30" fill="#008080"/>
<rect x="258" y="71" width="3" height="7" fill="#008080"/>
<rect x="263" y="52" width="1" height="48" fill="#008080"/>
<rect x="262" y="58" width="3" height="14" fill="#008080"/>
<rect x="267" y="52" width="1" height="30" fill="#DC143C"/>
<rect x="266" y="58" width="3" height="22" fill="#DC143C"/>
<rect x="271" y="68" width="1" height="26" fill="#DC143C"/>
<rect x="270" y="72" width="3" height="6" fill="#DC143C"/>
<rect x="275" y="75" width="1" height="16" fill="#DC143C"/>
<rect x="274" y="77" width="3" height="14" fill="#DC143C"/>
<rect x="279" y="88" width="1" height="18" fill="#DC143C"/>
<rect x="278" y="91" width="3" height="8" fill="#DC143C"/>
<rect x="283" y="79" width="1" height="22" fill="#008080"/>
<rect x="282" y="87" width="3" height="12" fill="#008080"/>
<rect x="287" y="84" width="1" height="36" fill="#DC143C"/>
<rect x="286" y="87" width="3" height="27" fill="#DC143C"/>
<rect x="291" y="96" width="1" height="23" fill="#008080"/>
<rect x="290" y="102" width="3" height="12" fill="#008080"/>
<rect x="295" y="93" width="1" height="16" fill="#DC143C"/>
<rect x="294" y="102" width="3" height="2" fill="#DC143C"/>
<rect x="299" y="93" width="1" height="41" fill="#DC143C"/>
<rect x="298" y="103" width="3" height="29" fill="#DC143C"/>
<rect x="303" y="121" width="1" height="22" fill="#DC143C"/>
<rect x="302" y="131" width="3" height="12" fill="#DC143C"/>
<rect x="307" y="139" width="1" height="27" fill="#008080"/>
<rect x="306" y="141" width="3" height="2" fill="#008080"/>
<rect x="311" y="127" width="1" height="20" fill="#008080"/>
<rect x="310" y="135" width="3" height="7" fill="#008080"/>
<rect x="315" y="132" width="1" height="32" fill="#DC143C"/>
<rect x="314" y="135" width="3" height="29" fill="#DC143C"/>
<rect x="319" y="152" width="1" height="13" fill="#008080"/>
<rect x="318" y="154" width="3" height="10" fill="#008080"/>
<rect x="323" y="142" width="1" height="20" fill="#008080"/>
<rect x="322" y="144" width="3" height="10" fill="#008080"/>
<rect x="327" y="142" width="1" height="34" fill="#DC143C"/>
<rect x="326" y="144" width="3" height="19" fill="#DC143C"/>
<rect x="331" y="98" width="1" height="68" fill="#008080"/>
<rect x="330" y="120" width="3" height="43" fill="#008080"/>
<rect x="335" y="91" width="1" height="45" fill="#008080"/>
<rect x="334" y="99" width="3" height="21" fill="#008080"/>
<rect x="339" y="95" width="1" height="19" fill="#DC143C"/>
<rect x="338" y="99" width="3" height="15" fill="#DC143C"/>
<rect x="343" y="106" width="1" height="13" fill="#DC143C"/>
<rect x="342" y="110" width="3" height="4" fill="#DC143C"/>
<rect x="347" y="100" width="1" height="22" fill="#DC143C"/>
<rect x="346" y="112" width="3" height="8" fill="#DC143C"/>
<rect x="351" y="108" width="1" height="18" fill="#008080"/>
<rect x="350" y="113" width="3" height="7" fill="#008080"/>
<rect x="355" y="109" width="1" height="24" fill="#DC143C"/>
<rect x="354" y="114" width="3" height="16" fill="#DC143C"/>
<rect x="359" y="114" width="1" height="27" fill="#008080"/>
<rect x="358" y="116" width="3" height="14" fill="#008080"/>
<rect x="363" y="113" width="1" height="12" fill="#DC143C"/>
<rect x="362" y="116" width="3" height="9" fill="#DC143C"/>
<rect x="367" y="117" width="1" height="15" fill="#008080"/>
<rect x="366" y="117" width="3" height="9" fill="#008080"/>
<rect x="371" y="107" width="1" height="15" fill="#008080"/>
<rect x="370" y="114" width="3" height="4" fill="#008080"/>
<rect x="375" y="59" width="1" height="57" fill="#008080"/>
<rect x="374" y="62" width="3" height="53" fill="#008080"/>
<rect x="379" y="54" width="1" height="16" fill="#008080"/>
<rect x="378" y="61" width="3" height="2" fill="#008080"/>
<rect x="383" y="56" width="1" height="24" fill="#DC143C"/>
<rect x="382" y="61" width="3" height="17" fill="#DC143C"/>
<rect x="387" y="73" width="1" height="14" fill="#DC143C"/>
<rect x="386" y="77" width="3" height="4" fill="#DC143C"/>
<rect x="391" y="64" width="1" height="25" fill="#008080"/>
<rect x="390" y="72" width="3" height="12" fill="#008080"/>
<rect x="395" y="61" width="1" height="19" fill="#008080"/>
<rect x="394" y="68" width="3" height="5" fill="#008080"/>
<rect x="399" y="63" width="1" height="30" fill="#DC143C"/>
<rect x="398" y="68" width="3" height="21" fill="#DC143C"/>
<rect x="403" y="82" width="1" height="47" fill="#DC143C"/>
<rect x="402" y="89" width="3" height="26" fill="#DC143C"/>
<rect x="407" y="75" width="1" height="42" fill="#008080"/>
<rect x="406" y="79" width="3" height="36" fill="#008080"/>
<rect x="411" y="54" width="1" height="27" fill="#008080"/>
<rect x="410" y="63" width="3" height="17" fill="#008080"/>
<rect x="415" y="56" width="1" height="33" fill="#008080"/>
<rect x="414" y="69" width="3" height="11" fill="#008080"/>
<rect x="419" y="36" width="1" height="53" fill="#008080"/>
<rect x="418" y="60" width="3" height="10" fill="#008080"/>
<rect x="423" y="45" width="1" height="44" fill="#DC143C"/>
<rect x="422" y="60" width="3" height="12" fill="#DC143C"/>
<rect x="427" y="70" width="1" height="17" fill="#DC143C"/>
<rect x="426" y="72" width="3" height="10" fill="#DC143C"/>
<rect x="431" y="80" width="1" height="39" fill="#DC143C"/>
<rect x="430" y="81" width="3" height="38" fill="#DC143C"/>
<rect x="435" y="118" width="1" height="26" fill="#DC143C"/>
<rect x="434" y="119" width="3" height="25" fill="#DC143C"/>
<rect x="439" y="133" width="1" height="21" fill="#008080"/>
<rect x="438" y="144" width="3" height="2" fill="#008080"/>
<rect x="443" y="139" width="1" height="30" fill="#DC143C"/>
<rect x="442" y="144" width="3" height="25" fill="#DC143C"/>
<rect x="447" y="163" width="1" height="102" fill="#DC143C"/>
<rect x="446" y="168" width="3" height="72" fill="#DC143C"/>
<rect x="451" y="213" width="1" height="33" fill="#008080"/>
<rect x="450" y="231" width="3" height="9" fill="#008080"/>
<rect x="455" y="210" width="1" height="44" fill="#DC143C"/>
<rect x="454" y="230" width="3" height="13" fill="#DC143C"/>
<rect x="459" y="226" width="1" height="32" fill="#008080"/>
<rect x="458" y="239" width="3" height="4" fill="#008080"/>
<rect x="463" y="238" width="1" height="42" fill="#DC143C"/>
<rect x="462" y="274" width="3" height="2" fill="#DC143C"/>
<rect x="467" y="260" width="1" height="28" fill="#DC143C"/>
<rect x="466" y="275" width="3" height="10" fill="#DC143C"/>
<rect x="471" y="249" width="1" height="36" fill="#008080"/>
<rect x="470" y="274" width="3" height="11" fill="#008080"/>
<rect x="475" y="252" width="1" height="36" fill="#008080"/>
<rect x="474" y="256" width="3" height="19" fill="#008080"/>
<rect x="479" y="250" width="1" height="42" fill="#DC143C"/>
<rect x="478" y="256" width="3" height="31" fill="#DC143C"/>
<rect x="483" y="273" width="1" height="25" fill="#008080"/>
<rect x="482" y="283" width="3" height="4" fill="#008080"/>
<rect x="487" y="271" width="1" height="19" fill="#008080"/>
<rect x="486" y="274" width="3" height="14" fill="#008080"/>
<rect x="491" y="260" width="1" height="21" fill="#DC143C"/>
<rect x="490" y="274" width="3" height="2" fill="#DC143C"/>
<rect x="495" y="262" width="1" height="41" fill="#DC143C"/>
<rect x="494" y="275" width="3" height="25" fill="#DC143C"/>
<rect x="499" y="281" width="1" height="20" fill="#008080"/>
<rect x="498" y="290" width="3" height="10" fill="#008080"/>
<rect x="503" y="283" width="1" height="47" fill="#DC143C"/>
<rect x="502" y="290" width="3" height="40" fill="#DC143C"/>
<rect x="507" y="317" width="1" height="23" fill="#008080"/>
<rect x="506" y="319" width="3" height="11" fill="#008080"/>
<rect x="511" y="314" width="1" height="24" fill="#DC143C"/>
<rect x="510" y="319" width="3" height="19" fill="#DC143C"/>
<rect x="515" y="323" width="1" height="46" fill="#DC143C"/>
<rect x="514" y="337" width="3" height="17" fill="#DC143C"/>
<rect x="519" y="324" width="1" height="38" fill="#008080"/>
<rect x="518" y="336" width="3" height="18" fill="#008080"/>
<rect x="523" y="328" width="1" height="27" fill="#DC143C"/>
<rect x="522" y="336" width="3" height="3" fill="#DC143C"/>
<rect x="527" y="308" width="1" height="52" fill="#008080"/>
<rect x="526" y="317" width="3" height="22" fill="#008080"/>
<rect x="531" y="311" width="1" height="20" fill="#DC143C"/>
<rect x="530" y="317" width="3" height="4" fill="#DC143C"/>
<rect x="535" y="313" width="1" height="27" fill="#DC143C"/>
<rect x="534" y="325" width="3" height="4" fill="#DC143C"/>
<rect x="539" y="273" width="1" height="78" fill="#008080"/>
<rect x="538" y="278" width="3" height="51" fill="#008080"/>
<rect x="543" y="266" width="1" height="29" fill="#DC143C"/>
<rect x="542" y="278" width="3" height="3" fill="#DC143C"/>
<rect x="547" y="267" width="1" height="23" fill="#DC143C"/>
<rect x="546" y="281" width="3" height="6" fill="#DC143C"/>
<rect x="551" y="256" width="1" height="40" fill="#DC143C"/>
<rect x="550" y="286" width="3" height="8" fill="#DC143C"/>
<rect x="555" y="285" width="1" height="18" fill="#DC143C"/>
<rect x="554" y="292" width="3" height="2" fill="#DC143C"/>
<rect x="559" y="286" width="1" height="16" fill="#008080"/>
<rect x="558" y="290" width="3" height="6" fill="#008080"/>
<rect x="563" y="264" width="1" height="29" fill="#008080"/>
<rect x="562" y="287" width="3" height="4" fill="#008080"/>
<rect x="567" y="273" width="1" height="17" fill="#008080"/>
<rect x="566" y="277" width="3" height="11" fill="#008080"/>
</g>
<g shape-rendering="crispEdges">
<rect x="2" y="2" width="711" height="1" fill="#000"/>
<rect x="2" y="377" width="711" height="1" fill="#000"/>
<rect x="2" y="379" width="711" height="1" fill="#000"/>
<rect x="2" y="428" width="711" height="1" fill="#000"/>
<rect x="2" y="430" width="711" height="1" fill="#000"/>
<rect x="2" y="485" width="711" height="1" fill="#000"/>
<rect x="2" y="2" width="1" height="376" fill="#000" />
<rect x="2" y="379" width="1" height="50" fill="#000" />
<rect x="2" y="430" width="1" height="56" fill="#000" />
<rect x="712" y="2" width="1" height="376" fill="#000" />
<rect x="712" y="379" width="1" height="50" fill="#000" />
<rect x="712" y="430" width="1" height="56" fill="#000" />
<rect x="713" y="11" width="2" height="1" fill="#000"/>
<rect x="713" y="44" width="2" height="1" fill="#000"/>
<rect x="713" y="77" width="2" height="1" fill="#000"/>
<rect x="713" y="110" width="2" height="1" fill="#000"/>
<rect x="713" y="143" width="2" height="1" fill="#000"/>
<rect x="713" y="176" width="2" height="1" fill="#000"/>
<rect x="713" y="209" width="2" height="1" fill="#000"/>
<rect x="713" y="242" width="2" height="1" fill="#000"/>
<rect x="713" y="308" width="2" height="1" fill="#000"/>
<rect x="713" y="341" width="2" height="1" fill="#000"/>
<rect x="713" y="374" width="2" height="1" fill="#000"/>
<rect x="713" y="374" width="2" height="1" fill="#000"/>
<rect x="713" y="277" width="1" height="1" fill="#000"/>
<rect x="713" y="381" width="1" height="1" fill="#000"/>
<rect x="713" y="395" width="1" height="1" fill="#000"/>
<rect x="713" y="427" width="1" height="1" fill="#000"/>
<rect x="713" y="432" width="1" height="1" fill="#000"/>
<rect x="713" y="484" width="1" height="1" fill="#000"/>
<rect x="3" y="486" width="1" height="3" fill="#000" />
<rect x="67" y="486" width="1" height="3" fill="#000" />
<rect x="131" y="486" width="1" height="3" fill="#000" />
<rect x="195" y="486" width="1" height="3" fill="#000" />
<rect x="259" y="486" width="1" height="3" fill="#000" />
<rect x="323" y="486" width="1" height="3" fill="#000" />
<rect x="387" y="486" width="1" height="3" fill="#000" />
<rect x="451" y="486" width="1" height="3" fill="#000" />
<rect x="515" y="486" width="1" height="3" fill="#000" />
<line x1="4" x2="712" y1="395.5" y2="395.5" stroke="#808080" stroke-dasharray="3 3"/>
<line x1="4" x2="712" y1="447.5" y2="447.5" stroke="#006400" stroke-dasharray="3 3"/>
<line x1="4" x2="712" y1="469.5" y2="469.5" stroke="#006400" stroke-dasharray="3 3"/>
<rect x="3" y="391" width="2" height="4" fill="#008080"/>
<rect x="6" y="393" width="3" height="2" fill="#008080"/>
<rect x="10" y="391" width="3" height="4" fill="#008080"/>
<rect x="14" y="391" width="3" height="4" fill="#008080"/>
<rect x="18" y="394" width="3" height="1" fill="#008080"/>
<rect x="22" y="395" width="3" height="3" fill="#008080"/>
<rect x="26" y="395" width="3" height="5" fill="#008080"/>
<rect x="30" y="395" width="3" height="6" fill="#008080"/>
<rect x="34" y="395" width="3" height="8" fill="#008080"/>
<rect x="38" y="395" width="3" height="12" fill="#008080"/>
<rect x="42" y="395" width="3" height="13" fill="#008080"/>
<rect x="46" y="395" width="3" height="9" fill="#008080"/>
<rect x="50" y="395" width="3" height="7" fill="#008080"/>
<rect x="54" y="395" width="3" height="4" fill="#008080"/>
<rect x="58" y="395" width="3" height="1" fill="#008080"/>
<rect x="62" y="395" width="3" height="5" fill="#008080"/>
<rect x="66" y="395" width="3" height="11" fill="#008080"/>
<rect x="70" y="395" width="3" height="15" fill="#008080"/>
<rect x="74" y="395" width="3" height="14" fill="#008080"/>
<rect x="78" y="395" width="3" height="12" fill="#008080"/>
<rect x="82" y="395" width="3" height="11" fill="#008080"/>
<rect x="86" y="395" width="3" height="10" fill="#008080"/>
<rect x="90" y="395" width="3" height="4" fill="#008080"/>
<rect x="98" y="392" width="3" height="3" fill="#008080"/>
<rect x="102" y="389" width="3" height="6" fill="#008080"/>
<rect x="106" y="388" width="3" height="7" fill="#008080"/>
<rect x="110" y="389" width="3" height="6" fill="#008080"/>
<rect x="114" y="392" width="3" height="3" fill="#008080"/>
<rect x="118" y="394" width="3" height="1" fill="#008080"/>
<rect x="122" y="395" width="3" height="1" fill="#008080"/>
<rect x="126" y="395" width="3" height="2" fill="#008080"/>
<rect x="130" y="395" width="3" height="4" fill="#008080"/>
<rect x="134" y="395" width="3" height="4" fill="#008080"/>
<rect x="138" y="395" width="3" height="1" fill="#008080"/>
<rect x="142" y="393" width="3" height="2" fill="#008080"/>
<rect x="146" y="391" width="3" height="4" fill="#008080"/>
<rect x="150" y="388" width="3" height="7" fill="#008080"/>
<rect x="154" y="391" width="3" height="4" fill="#008080"/>
<rect x="158" y="389" width="3" height="6" fill="#008080"/>
<rect x="162" y="388" width="3" height="7" fill="#008080"/>
<rect x="166" y="389" width="3" height="6" fill="#008080"/>
<rect x="170" y="385" width="3" height="10" fill="#008080"/>
<rect x="174" y="382" width="3" height="13" fill="#008080"/>
<rect x="178" y="383" width="3" height="12" fill="#008080"/>
<rect x="182" y="384" width="3" height="11" fill="#008080"/>
<rect x="186" y="388" width="3" height="7" fill="#008080"/>
<rect x="190" y="392" width="3" height="3" fill="#008080"/>
<rect x="194" y="395" width="3" height="2" fill="#008080"/>
<rect x="198" y="395" width="3" height="4" fill="#008080"/>
<rect x="202" y="395" width="3" height="5" fill="#008080"/>
<rect x="206" y="395" width="3" height="7" fill="#008080"/>
<rect x="210" y="395" width="3" height="6" fill="#008080"/>
<rect x="214" y="395" width="3" height="4" fill="#008080"/>
<rect x="218" y="395" width="3" height="3" fill="#008080"/>
<rect x="222" y="395" width="3" height="2" fill="#008080"/>
<rect x="226" y="395" width="3" height="2" fill="#008080"/>
<rect x="230" y="395" width="3" height="2" fill="#008080"/>
<rect x="234" y="395" width="3" height="1" fill="#008080"/>
<rect x="246" y="394" width="3" height="1" fill="#008080"/>
<rect x="250" y="391" width="3" height="4" fill="#008080"/>
<rect x="254" y="390" width="3" height="5" fill="#008080"/>
<rect x="258" y="389" width="3" height="6" fill="#008080"/>
<rect x="262" y="388" width="3" height="7" fill="#008080"/>
<rect x="266" y="389" width="3" height="6" fill="#008080"/>
<rect x="270" y="389" width="3" height="6" fill="#008080"/>
<rect x="274" y="391" width="3" height="4" fill="#008080"/>
<rect x="278" y="392" width="3" height="3" fill="#008080"/>
<rect x="282" y="393" width="3" height="2" fill="#008080"/>
<rect x="294" y="395" width="3" height="1" fill="#008080"/>
<rect x="298" y="395" width="3" height="4" fill="#008080"/>
<rect x="302" y="395" width="3" height="6" fill="#008080"/>
<rect x="306" y="395" width="3" height="7" fill="#008080"/>
<rect x="310" y="395" width="3" height="8" fill="#008080"/>
<rect x="314" y="395" width="3" height="10" fill="#008080"/>
<rect x="318" y="395" width="3" height="10" fill="#008080"/>
<rect x="322" y="395" width="3" height="10" fill="#008080"/>
<rect x="326" y="395" width="3" height="11" fill="#008080"/>
<rect x="330" y="395" width="3" height="8" fill="#008080"/>
<rect x="334" y="395" width="3" height="4" fill="#008080"/>
<rect x="338" y="395" width="3" height="2" fill="#008080"/>
<rect x="342" y="395" width="3" height="1" fill="#008080"/>
<rect x="346" y="395" width="3" height="1" fill="#008080"/>
<rect x="350" y="395" width="3" height="1" fill="#008080"/>
<rect x="354" y="395" width="3" height="2" fill="#008080"/>
<rect x="358" y="395" width="3" height="1" fill="#008080"/>
<rect x="362" y="395" width="3" height="2" fill="#008080"/>
<rect x="366" y="395" width="3" height="1" fill="#008080"/>
<rect x="370" y="395" width="3" height="1" fill="#008080"/>
<rect x="374" y="391" width="3" height="4" fill="#008080"/>
<rect x="378" y="388" width="3" height="7" fill="#008080"/>
<rect x="382" y="387" width="3" height="8" fill="#008080"/>
<rect x="386" y="388" width="3" height="7" fill="#008080"/>
<rect x="390" y="387" width="3" height="8" fill="#008080"/>
<rect x="394" y="387" width="3" height="8" fill="#008080"/>
<rect x="398" y="388" width="3" height="7" fill="#008080"/>
<rect x="402" y="392" width="3" height="3" fill="#008080"/>
<rect x="406" y="391" width="3" height="4" fill="#008080"/>
<rect x="410" y="389" width="3" height="6" fill="#008080"/>
<rect x="414" y="388" width="3" height="7" fill="#008080"/>
<rect x="418" y="387" width="3" height="8" fill="#008080"/>
<rect x="422" y="388" width="3" height="7" fill="#008080"/>
<rect x="426" y="389" width="3" height="6" fill="#008080"/>
<rect x="430" y="393" width="3" height="2" fill="#008080"/>
<rect x="434" y="395" width="3" height="3" fill="#008080"/>
<rect x="438" y="395" width="3" height="6" fill="#008080"/>
<rect x="442" y="395" width="3" height="10" fill="#008080"/>
<rect x="446" y="395" width="3" height="18" fill="#008080"/>
<rect x="450" y="395" width="3" height="22" fill="#008080"/>
<rect x="454" y="395" width="3" height="25" fill="#008080"/>
<rect x="458" y="395" width="3" height="26" fill="#008080"/>
<rect x="462" y="395" width="3" height="30" fill="#008080"/>
<rect x="466" y="395" width="3" height="32" fill="#008080"/>
<rect x="470" y="395" width="3" height="32" fill="#008080"/>
<rect x="474" y="395" width="3" height="30" fill="#008080"/>
<rect x="478" y="395" width="3" height="30" fill="#008080"/>
<rect x="482" y="395" width="3" height="30" fill="#008080"/>
<rect x="486" y="395" width="3" height="28" fill="#008080"/>
<rect x="490" y="395" width="3" height="27" fill="#008080"/>
<rect x="494" y="395" width="3" height="28" fill="#008080"/>
<rect x="498" y="395" width="3" height="27" fill="#008080"/>
<rect x="502" y="395" width="3" height="29" fill="#008080"/>
<rect x="506" y="395" width="3" height="29" fill="#008080"/>
<rect x="510" y="395" width="3" height="30" fill="#008080"/>
<rect x="514" y="395" width="3" height="31" fill="#008080"/>
<rect x="518" y="395" width="3" height="30" fill="#008080"/>
<rect x="522" y="395" width="3" height="29" fill="#008080"/>
<rect x="526" y="395" width="3" height="26" fill="#008080"/>
<rect x="530" y="395" width="3" height="24" fill="#008080"/>
<rect x="534" y="395" width="3" height="23" fill="#008080"/>
<rect x="538" y="395" width="3" height="18" fill="#008080"/>
<rect x="542" y="395" width="3" height="14" fill="#008080"/>
<rect x="546" y="395" width="3" height="12" fill="#008080"/>
<rect x="550" y="395" width="3" height="11" fill="#008080"/>
<rect x="554" y="395" width="3" height="11" fill="#008080"/>
<rect x="558" y="395" width="3" height="10" fill="#008080"/>
<rect x="562" y="395" width="3" height="9" fill="#008080"/>
<rect x="566" y="395" width="3" height="7" fill="#008080"/>
</g>
<clipPath id="macdclip"><rect x="3" y="380" width="709" height="48"/></clipPath>
<clipPath id="rsiclip"><rect x="3" y="431" width="709" height="54"/></clipPath>
<g clip-path="url(#macdclip)">
<polyline fill="none" stroke="#DC143C" stroke-width="2" shape-rendering="crispEdges" points="2.5,390.68 3.5,390.68 7.5,390.96 11.5,390.91 15.5,390.86 19.5,391.50 23.5,392.91 27.5,394.40 31.5,396.46 35.5,398.86 39.5,401.30 43.5,403.23 47.5,404.00 51.5,404.06 55.5,403.27 59.5,401.12 63.5,399.55 67.5,399.99 71.5,401.68 75.5,403.73 79.5,406.02 83.5,407.16 87.5,406.87 91.5,404.61 95.5,401.76 99.5,398.69 103.5,395.37 107.5,392.03 111.5,390.10 115.5,389.40 119.5,389.85 123.5,391.23 127.5,393.12 131.5,395.12 135.5,396.65 139.5,397.11 143.5,396.61 147.5,395.34 151.5,393.23 155.5,391.55 159.5,390.13 163.5,389.13 167.5,388.78 171.5,388.10 175.5,386.40 179.5,385.04 183.5,384.22 187.5,383.99 191.5,385.45 195.5,388.35 199.5,391.73 203.5,394.84 207.5,397.54 211.5,399.21 215.5,399.62 219.5,399.24 223.5,398.69 227.5,397.85 231.5,397.12 235.5,396.62 239.5,396.10 243.5,395.60 247.5,394.88 251.5,393.60 255.5,392.34 259.5,391.18 263.5,389.74 267.5,388.68 271.5,388.36 275.5,388.49 279.5,389.15 283.5,390.14 287.5,391.43 291.5,392.69 295.5,393.75 299.5,394.97 303.5,396.67 307.5,398.15 311.5,399.57 315.5,401.39 319.5,402.78 323.5,403.52 327.5,404.19 331.5,404.19 335.5,402.90 339.5,401.26 343.5,399.60 347.5,397.74 351.5,396.39 355.5,396.02 359.5,395.80 363.5,395.82 367.5,395.76 371.5,395.71 375.5,394.52 379.5,392.84 383.5,391.03 387.5,389.34 391.5,387.67 395.5,386.84 399.5,386.94 403.5,387.78 407.5,388.40 411.5,388.75 415.5,389.10 419.5,388.94 423.5,388.21 427.5,387.93 431.5,388.82 435.5,390.73 439.5,393.41 443.5,396.74 447.5,401.43 451.5,406.13 455.5,410.53 459.5,414.60 463.5,418.59 467.5,421.41 471.5,423.42 475.5,424.37 479.5,425.22 483.5,425.30 487.5,424.59 491.5,423.63 495.5,423.21 499.5,422.47 503.5,422.26 507.5,422.38 511.5,422.97 515.5,423.72 519.5,424.43 523.5,424.47 527.5,423.91 531.5,422.74 535.5,421.06 539.5,418.53 543.5,415.53 547.5,412.74 551.5,410.19 555.5,407.70 559.5,406.10 563.5,404.97 567.5,403.90"/>
</g><g clip-path="url(#rsiclip)">
<polyline fill="none" stroke="#008080" stroke-width="2" shape-rendering="crispEdges" points="2.5,458.20 3.5,458.20 7.5,458.20 11.5,454.90 15.5,455.50 19.5,460.60 23.5,462.80 27.5,462.80 31.5,463.50 35.5,465.00 39.5,466.80 43.5,465.50 47.5,458.20 51.5,458.00 55.5,457.70 59.5,455.80 63.5,463.00 67.5,466.00 71.5,466.20 75.5,462.20 79.5,460.80 83.5,460.30 87.5,459.80 91.5,456.11 95.5,456.26 99.5,455.44 103.5,454.37 107.5,455.16 111.5,457.51 115.5,459.60 119.5,460.78 123.5,460.95 127.5,461.29 131.5,462.38 135.5,460.91 139.5,456.71 143.5,454.93 147.5,454.25 151.5,452.78 155.5,458.74 159.5,455.10 163.5,454.83 167.5,456.76 171.5,451.50 175.5,451.19 179.5,453.95 183.5,455.81 187.5,458.90 191.5,460.94 195.5,462.68 199.5,462.55 203.5,460.89 207.5,462.58 211.5,459.92 215.5,458.18 219.5,458.18 223.5,458.94 227.5,459.54 231.5,458.93 235.5,457.97 239.5,456.53 243.5,457.71 247.5,456.29 251.5,452.38 255.5,454.74 259.5,453.88 263.5,452.27 267.5,455.89 271.5,455.66 275.5,457.74 279.5,458.92 283.5,457.02 287.5,461.05 291.5,459.10 295.5,459.42 299.5,463.07 303.5,464.36 307.5,464.06 311.5,462.90 315.5,466.39 319.5,464.39 323.5,462.50 327.5,464.86 331.5,458.12 335.5,455.55 339.5,457.50 343.5,457.53 347.5,458.42 351.5,457.38 355.5,459.78 359.5,457.75 363.5,459.00 367.5,457.80 371.5,457.30 375.5,450.79 379.5,450.72 383.5,453.54 387.5,454.06 391.5,452.95 395.5,452.44 399.5,456.29 403.5,460.13 407.5,455.23 411.5,453.41 415.5,454.38 419.5,453.34 423.5,455.27 427.5,456.77 431.5,461.61 435.5,464.14 439.5,464.17 443.5,466.55 447.5,471.38 451.5,470.00 455.5,470.73 459.5,470.10 463.5,472.27 467.5,472.70 471.5,470.89 475.5,467.95 479.5,470.04 483.5,469.39 487.5,467.84 491.5,468.05 495.5,469.82 499.5,468.12 503.5,470.91 507.5,469.08 511.5,470.35 515.5,471.37 519.5,468.37 523.5,468.57 527.5,465.02 531.5,465.41 535.5,466.14 539.5,458.79 543.5,459.17 547.5,459.88 551.5,460.69 555.5,460.66 559.5,460.09 563.5,459.59 567.5,457.93"/>
</g>
<rect x="714" y="272" width="41" height="11" fill="#000" shape-rendering="crispEdges"/>
<text x="718" y="15" font-size="10.2" fill="#000" stroke="#000" stroke-width="0.12" textLength="33" lengthAdjust="spacingAndGlyphs">0.74710</text>
<text x="718" y="48" font-size="10.2" fill="#000" stroke="#000" stroke-width="0.12" textLength="33" lengthAdjust="spacingAndGlyphs">0.74465</text>
<text x="718" y="81" font-size="10.2" fill="#000" stroke="#000" stroke-width="0.12" textLength="33" lengthAdjust="spacingAndGlyphs">0.74215</text>
<text x="718" y="114" font-size="10.2" fill="#000" stroke="#000" stroke-width="0.12" textLength="33" lengthAdjust="spacingAndGlyphs">0.73965</text>
<text x="718" y="147" font-size="10.2" fill="#000" stroke="#000" stroke-width="0.12" textLength="33" lengthAdjust="spacingAndGlyphs">0.73715</text>
<text x="718" y="180" font-size="10.2" fill="#000" stroke="#000" stroke-width="0.12" textLength="33" lengthAdjust="spacingAndGlyphs">0.73465</text>
<text x="718" y="213" font-size="10.2" fill="#000" stroke="#000" stroke-width="0.12" textLength="33" lengthAdjust="spacingAndGlyphs">0.73215</text>
<text x="718" y="246" font-size="10.2" fill="#000" stroke="#000" stroke-width="0.12" textLength="33" lengthAdjust="spacingAndGlyphs">0.72965</text>
<text x="718" y="312" font-size="10.2" fill="#000" stroke="#000" stroke-width="0.12" textLength="33" lengthAdjust="spacingAndGlyphs">0.72465</text>
<text x="718" y="345" font-size="10.2" fill="#000" stroke="#000" stroke-width="0.12" textLength="33" lengthAdjust="spacingAndGlyphs">0.72215</text>
<text x="718" y="378" font-size="10.2" fill="#000" stroke="#000" stroke-width="0.12" textLength="33" lengthAdjust="spacingAndGlyphs">0.71970</text>
<text x="718" y="281" font-size="10.2" fill="#fff" stroke="#fff" stroke-width="0.12" textLength="33" lengthAdjust="spacingAndGlyphs">0.72705</text>
<text x="716" y="390" font-size="10.2" fill="#000" stroke="#000" stroke-width="0.12" textLength="38" lengthAdjust="spacingAndGlyphs">0.003607</text>
<text x="715" y="398.8" font-size="10.2" fill="#000" stroke="#000" stroke-width="0.12" textLength="19" lengthAdjust="spacingAndGlyphs">0.00</text>
<text x="715.5" y="398.8" font-size="10.2" fill="#000" stroke="#000" stroke-width="0.12" textLength="4.9" lengthAdjust="spacingAndGlyphs">0</text>
<text x="716" y="425" font-size="10.2" fill="#000" stroke="#000" stroke-width="0.12" textLength="36" lengthAdjust="spacingAndGlyphs">-0.00836</text>
<text x="716.5" y="441" font-size="10.2" fill="#000" stroke="#000" stroke-width="0.12" textLength="14.5" lengthAdjust="spacingAndGlyphs">100</text>
<text x="716" y="451" font-size="10.2" fill="#000" stroke="#000" stroke-width="0.12" textLength="9" lengthAdjust="spacingAndGlyphs">70</text>
<text x="715" y="473" font-size="10.2" fill="#000" stroke="#000" stroke-width="0.12" textLength="10" lengthAdjust="spacingAndGlyphs">30</text>
<text x="716.3" y="482" font-size="10.2" fill="#000" stroke="#000" stroke-width="0.12" textLength="4.6" lengthAdjust="spacingAndGlyphs">0</text>
<path d="M6 9h7l-3.5 4z" fill="#000"/>
<text x="18.7" y="14" font-size="10.2" fill="#000" stroke="#000" stroke-width="0.12" textLength="55.3" lengthAdjust="spacingAndGlyphs">AUDUSD,H4</text>
<text x="80.5" y="14" font-size="10.2" fill="#000" stroke="#000" stroke-width="0.12" textLength="32.2" lengthAdjust="spacingAndGlyphs">0.72629</text>
<text x="116.4" y="14" font-size="10.2" fill="#000" stroke="#000" stroke-width="0.12" textLength="32.2" lengthAdjust="spacingAndGlyphs">0.72732</text>
<text x="152.3" y="14" font-size="10.2" fill="#000" stroke="#000" stroke-width="0.12" textLength="32.2" lengthAdjust="spacingAndGlyphs">0.72609</text>
<text x="188.2" y="14" font-size="10.2" fill="#000" stroke="#000" stroke-width="0.12" textLength="32.2" lengthAdjust="spacingAndGlyphs">0.72705</text>
<text x="7.4" y="392" font-size="10.2" fill="#000" stroke="#000" stroke-width="0.12" textLength="60.8" lengthAdjust="spacingAndGlyphs">MACD(5,35,5)</text>
<text x="72" y="392" font-size="10.2" fill="#000" stroke="#000" stroke-width="0.12" textLength="39.2" lengthAdjust="spacingAndGlyphs">-0.001760</text>
<text x="115.5" y="392" font-size="10.2" fill="#000" stroke="#000" stroke-width="0.12" textLength="39.2" lengthAdjust="spacingAndGlyphs">-0.002331</text>
<text x="7.7" y="443.3" font-size="10.2" fill="#000" stroke="#000" stroke-width="0.12" textLength="31.4" lengthAdjust="spacingAndGlyphs">RSI(14)</text>
<text x="42.4" y="443.3" font-size="10.2" fill="#000" stroke="#000" stroke-width="0.12" textLength="31.1" lengthAdjust="spacingAndGlyphs">50.1061</text>
<text x="2.6" y="498" font-size="10.2" fill="#000" stroke="#000" stroke-width="0.12" textLength="46.4" lengthAdjust="spacingAndGlyphs">16 Jul 2018</text>
<text x="66.6" y="498" font-size="10.2" fill="#000" stroke="#000" stroke-width="0.12" textLength="49.6" lengthAdjust="spacingAndGlyphs">19 Jul 12:00</text>
<text x="130.6" y="498" font-size="10.2" fill="#000" stroke="#000" stroke-width="0.12" textLength="49.6" lengthAdjust="spacingAndGlyphs">24 Jul 04:00</text>
<text x="194.6" y="498" font-size="10.2" fill="#000" stroke="#000" stroke-width="0.12" textLength="49.6" lengthAdjust="spacingAndGlyphs">26 Jul 20:00</text>
<text x="258.6" y="498" font-size="10.2" fill="#000" stroke="#000" stroke-width="0.12" textLength="49.6" lengthAdjust="spacingAndGlyphs">31 Jul 12:00</text>
<text x="322.6" y="498" font-size="10.2" fill="#000" stroke="#000" stroke-width="0.12" textLength="49.8" lengthAdjust="spacingAndGlyphs">3 Aug 04:00</text>
<text x="386.6" y="498" font-size="10.2" fill="#000" stroke="#000" stroke-width="0.12" textLength="49.8" lengthAdjust="spacingAndGlyphs">7 Aug 20:00</text>
<text x="450.6" y="498" font-size="10.2" fill="#000" stroke="#000" stroke-width="0.12" textLength="54.8" lengthAdjust="spacingAndGlyphs">10 Aug 12:00</text>
<text x="514.6" y="498" font-size="10.2" fill="#000" stroke="#000" stroke-width="0.12" textLength="54.8" lengthAdjust="spacingAndGlyphs">15 Aug 04:00</text>
</svg></body></html>
